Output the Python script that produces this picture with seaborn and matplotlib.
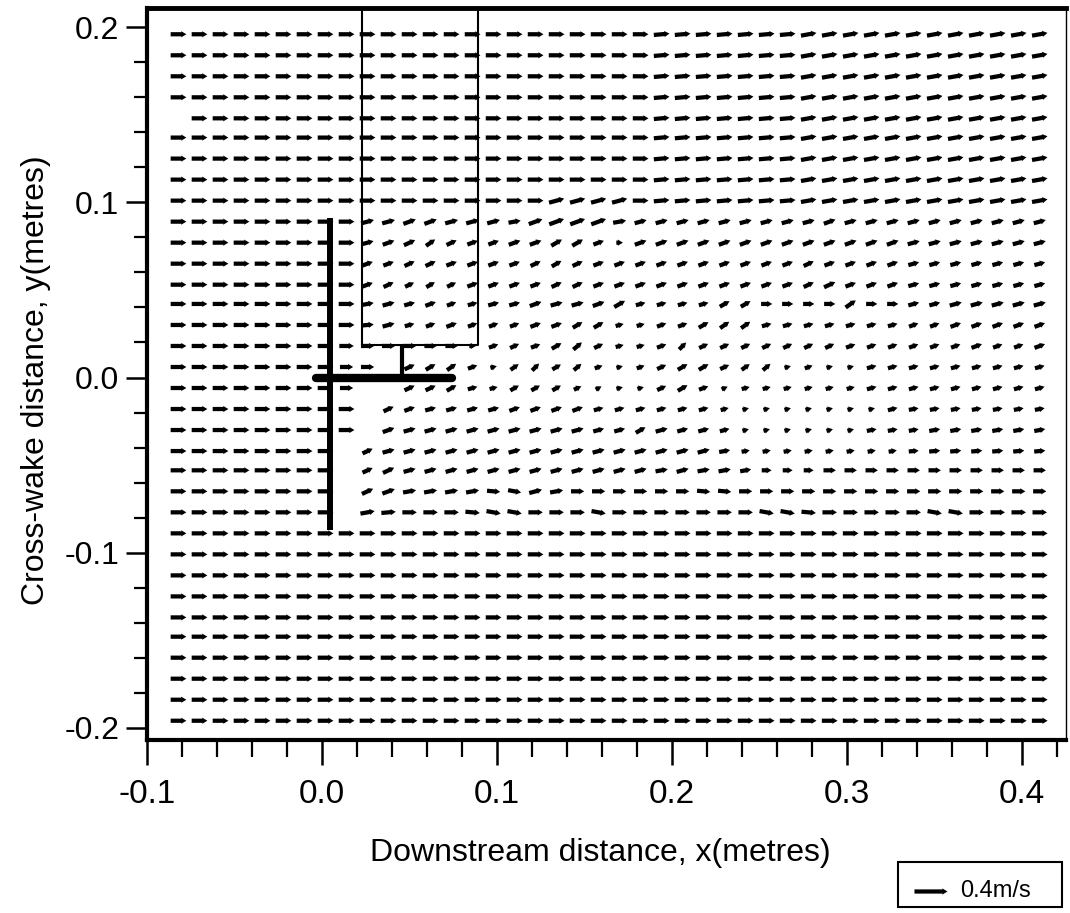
import numpy as np
import matplotlib
matplotlib.use("Agg")
import matplotlib.pyplot as plt
import seaborn as sns
from matplotlib.patches import Rectangle
from matplotlib.ticker import MultipleLocator

sns.set_theme(style="ticks")
plt.rcParams["font.family"] = ["Liberation Sans", "DejaVu Sans"]
plt.rcParams["axes.edgecolor"] = "black"
plt.rcParams["text.color"] = "black"
plt.rcParams["xtick.color"] = "black"
plt.rcParams["ytick.color"] = "black"

# measurement grid (metres)
x_points = [-0.082, -0.070, -0.058, -0.046, -0.034, -0.022, -0.010, 0.002,
            0.014, 0.026, 0.038, 0.050, 0.062, 0.074, 0.086, 0.098, 0.110,
            0.122, 0.134, 0.146, 0.158, 0.170, 0.182, 0.194, 0.206, 0.218,
            0.230, 0.242, 0.254, 0.266, 0.278, 0.290, 0.302, 0.314, 0.326,
            0.338, 0.350, 0.362, 0.374, 0.386, 0.398, 0.410]
y_points = [0.196, 0.184, 0.172, 0.160, 0.148, 0.137, 0.125, 0.113, 0.101,
            0.089, 0.077, 0.065, 0.053, 0.042, 0.030, 0.018, 0.006,
            -0.006, -0.018, -0.030, -0.042, -0.053, -0.065, -0.077, -0.089,
            -0.101, -0.113, -0.125, -0.137, -0.148, -0.160, -0.172, -0.184,
            -0.196]

# speed class read off each arrow (see speed_code), '.' = no vector
FREE = "9999999 9999999 9999999 9999999 9999999 9999999"
speed_rows = [
    FREE, FREE, FREE, FREE,
    ".999999 9999999 9999999 9999999 9999999 9999999",
    FREE, FREE, FREE, FREE,
    "9999999 9977777 7768999 7666666 6666666 6666666",
    "9999999 9966655 5566665 2666666 6666666 6666666",
    "9999999 9955555 5555555 5555555 5555555 5555555",
    "9999999 9955444 5555555 5555555 5556555 5555555",
    "9999999 9966554 4556666 6444455 5555655 5566666",
    "9999999 9966445 4445555 3344555 4444444 4455555",
    "9999999 9877766 2444554 3344444 4444444 4445445",
    "9999999 977.555 4244443 2345544 4232244 4444444",
    "9999999 97..555 4344432 2245423 3333344 4444444",
    "9999999 99.5555 5555554 4444432 2222224 4444444",
    "9999999 99.6666 6666665 5565542 2222244 4555555",
    "9999999 9.56666 6666666 6666653 3333333 4555555",
    "9999999 9.56666 6666666 6666665 4446666 6666666",
    "9999999 9.67777 7777777 7777777 7777777 7777777",
    "9999999 9.88888 8888888 8888888 8888888 8888888",
    FREE, FREE, FREE, FREE, FREE, FREE, FREE, FREE, FREE, FREE,
]
speed_code = {"1": 0.06, "2": 0.08, "3": 0.10, "4": 0.12, "5": 0.135,
              "6": 0.15, "7": 0.16, "8": 0.175, "9": 0.19}

# flow direction of each arrow (see angle_code)
TOP = "0000000 0000000 0000000 0011111 1122222 2222222"
LEVEL = "0000000 0000000 0000000 0000000 0000000 0000000"
angle_rows = [
    TOP, TOP, TOP, TOP, TOP, TOP, TOP, TOP,
    "0000000 0000000 0000333 3011111 1122222 2222222",
    "0000000 0033443 3324444 2333333 3334333 3333333",
    "0000000 0034575 4444664 0444444 4444444 3333333",
    "0000000 0044554 4445654 4444444 4454444 3333333",
    "0000000 0045565 4444554 4444444 4455444 3333333",
    "0000000 0023344 3334334 6333366 0000700 3333333",
    "0000000 0013344 4444466 3344677 3333333 4444444",
    "0000000 0000000 0454685 3349555 5555444 4444444",
    "0000000 000.567 4379684 3456657 8343333 3333333",
    "0000000 00..556 3366656 3356453 3333333 3333333",
    "0000000 00.5433 3344443 3333333 3333333 2222222",
    "0000000 00.4333 3333333 3633333 3333322 2222222",
    "0000000 0.53333 3333333 3333322 2222222 1111111",
    "0000000 0.55333 3333333 3323222 0000000 0000000",
    "0000000 0.54222 2mn3200 0000mm0 0000000 0000000",
    "0000000 0.21000 mnn000n 0000000 nnm0000 0nn0000",
    LEVEL, LEVEL, LEVEL, LEVEL, LEVEL, LEVEL, LEVEL, LEVEL, LEVEL, LEVEL,
]
angle_code = {"n": -10, "m": -5, "0": 0, "1": 5, "2": 10, "3": 15, "4": 20,
              "5": 25, "6": 30, "7": 35, "8": 40, "9": 45, ".": 0}

xs, ys, us, vs = [], [], [], []
for j, (srow, arow) in enumerate(zip(speed_rows, angle_rows)):
    srow = srow.replace(" ", "")
    arow = arow.replace(" ", "")
    for i, (cs, ca) in enumerate(zip(srow, arow)):
        if cs == ".":
            continue
        spd = speed_code[cs]
        ang = np.radians(angle_code[ca])
        xs.append(x_points[i])
        ys.append(y_points[j])
        us.append(spd * np.cos(ang))
        vs.append(spd * np.sin(ang))

# model outline (metres)
plate_x, plate_y = 0.0046, (-0.087, 0.091)
bar_x, bar_y = (-0.0035, 0.0745), 0.0
stub_x, stub_y = 0.0455, (0.0, 0.0183)
box_x, box_y = (0.0227, 0.0891), 0.0183

fig = plt.figure(figsize=(10.7, 9.13), dpi=100)
ax = fig.add_axes([147 / 1070, 1 - 740 / 913, 919 / 1070, 732 / 913])

q = ax.quiver(xs, ys, us, vs, angles="xy", scale_units="xy", scale=21.2,
              pivot="middle", width=0.0046, headwidth=1.5, headlength=1.25,
              headaxislength=1.15, minshaft=0.5, minlength=0.3,
              color="black", zorder=3)

ax.plot([plate_x, plate_x], plate_y, color="black", lw=4.3,
        solid_capstyle="butt", zorder=4)
ax.plot(bar_x, [bar_y, bar_y], color="black", lw=6, solid_capstyle="round",
        zorder=4)
ax.plot([stub_x, stub_x], stub_y, color="black", lw=3, solid_capstyle="butt",
        zorder=4)
ax.plot([box_x[0], box_x[0], box_x[1], box_x[1]], [0.25, box_y, box_y, 0.25],
        color="black", lw=1.5, zorder=4)

ax.set_xlim(-0.1, 0.425)
ax.set_ylim(-0.207, 0.211)

xt = [-0.1, 0.0, 0.1, 0.2, 0.3, 0.4]
yt = [-0.2, -0.1, 0.0, 0.1, 0.2]
ax.set_xticks(xt)
ax.set_xticklabels(["-0.1", "0.0", "0.1", "0.2", "0.3", "0.4"])
ax.set_yticks(yt)
ax.set_yticklabels(["-0.2", "-0.1", "0.0", "0.1", "0.2"])
ax.xaxis.set_minor_locator(MultipleLocator(0.02))
ax.yaxis.set_minor_locator(MultipleLocator(0.02))
ax.tick_params(axis="x", which="major", length=18, width=1.8, pad=10,
               labelsize=24, direction="out")
ax.tick_params(axis="x", which="minor", length=12, width=1.6, direction="out")
ax.tick_params(axis="y", which="major", length=15, width=1.8, pad=5,
               labelsize=23, direction="out")
ax.tick_params(axis="y", which="minor", length=9.5, width=1.6, direction="out")

ax.spines["left"].set_linewidth(3)
ax.spines["bottom"].set_linewidth(3)
ax.spines["top"].set_linewidth(3.5)
ax.spines["right"].set_linewidth(1)

fig.text(600 / 1070, 1 - 853 / 913, "Downstream distance, x(metres)",
         ha="center", va="center", fontsize=23)
fig.text(36 / 1070, 1 - 380 / 913, "Cross-wake distance, y(metres)",
         ha="center", va="center", rotation=90, fontsize=23)

# reference vector box
fig.add_artist(Rectangle((898 / 1070, 1 - 907 / 913), 164 / 1070, 45 / 913,
                         transform=fig.transFigure, fill=False,
                         edgecolor="black", lw=1.5))
ax.quiverkey(q, 947 / 1070, 1 - 891 / 913, 0.4, "0.4m/s", labelpos="E",
             coordinates="figure", labelsep=0.13,
             fontproperties={"size": 17})

fig.savefig("out.png", dpi=100)
